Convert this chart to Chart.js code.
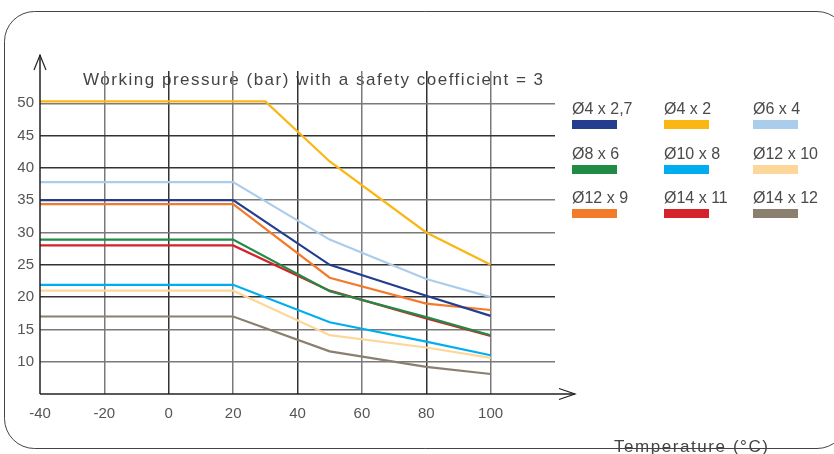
<!DOCTYPE html>
<html>
<head>
<meta charset="utf-8">
<script src="https://cdn.jsdelivr.net/npm/chart.js@4.4.1/dist/chart.umd.min.js"></script>
<style>
html,body{margin:0;padding:0;background:#fff;}
#wrap{width:834px;height:454px;position:relative;}
</style>
</head>
<body>
<div id="wrap"><canvas id="c" width="834" height="454"></canvas></div>
<script>
// ---- data ----
const temps = [-40, 20, 50, 80, 100];
const tempsD4x2 = [-40, 30, 50, 80, 100];
const seriesLabels = ['Ø4 x 2,7','Ø4 x 2','Ø6 x 4','Ø8 x 6','Ø10 x 8','Ø12 x 10','Ø12 x 9','Ø14 x 11','Ø14 x 12'];
const d4x27  = [35.0, 35.0, 25.0, 20.2, 17.1];
const d4x2   = [50.3, 50.3, 41.0, 30.0, 25.0];
const d6x4   = [37.8, 37.8, 28.9, 22.8, 20.0];
const d8x6   = [28.9, 28.9, 20.9, 16.9, 14.1];
const d10x8  = [21.9, 21.9, 16.1, 13.1, 11.0];
const d12x10 = [21.0, 21.0, 14.1, 12.2, 10.6];
const d12x9  = [34.4, 34.4, 23.0, 19.0, 18.0];
const d14x11 = [28.0, 28.0, 21.0, 16.7, 14.0];
const d14x12 = [17.0, 17.0, 11.6, 9.2, 8.1];
const xTicks = [-40, -20, 0, 20, 40, 60, 80, 100];
const yTicks = [10, 15, 20, 25, 30, 35, 40, 45, 50];
const titleText = 'Working pressure (bar) with a safety coefficient = 3';
const xTitleText = 'Temperature (°C)';

const colors = ['#233e8e','#fbb614','#abcdec','#1f8b45','#00aeef','#fdd799','#f47a2b','#d5232b','#8b7f6f'];
const seriesValues = [d4x27, d4x2, d6x4, d8x6, d10x8, d12x10, d12x9, d14x11, d14x12];
const seriesTemps = [temps, tempsD4x2, temps, temps, temps, temps, temps, temps, temps];

const datasets = seriesLabels.map((lab, i) => ({
  label: lab,
  data: seriesValues[i].map((v, k) => ({x: seriesTemps[i][k], y: v})),
  borderColor: colors[i],
  backgroundColor: colors[i],
  borderWidth: 2.2,
  pointRadius: 0,
  tension: 0,
  fill: false
}));
const darkX = new Set([0, 40, 80]);
const darkY = new Set([45, 40, 25, 20]);
const FONT = '"Liberation Sans", Arial, sans-serif';

function fitText(ctx, text, x, y, size, width) {
  ctx.font = size + 'px ' + FONT;
  try { ctx.letterSpacing = '0px'; } catch(e) {}
  const w = ctx.measureText(text).width;
  const sp = (width - w) / (text.length - 1);
  try { ctx.letterSpacing = sp.toFixed(2) + 'px'; } catch(e) {}
  ctx.fillText(text, x, y);
  try { ctx.letterSpacing = '0px'; } catch(e) {}
}

const decor = {
  id: 'decor',
  beforeDraw(chart) {
    const ctx = chart.ctx;
    ctx.save();
    ctx.strokeStyle = '#444';
    ctx.lineWidth = 1;
    const x0 = 4.5, y0 = 11.5, x1 = 847, y1 = 448.5, r = 30;
    ctx.beginPath();
    ctx.moveTo(x0 + r, y0);
    ctx.lineTo(x1 - r, y0);
    ctx.arcTo(x1, y0, x1, y0 + r, r);
    ctx.lineTo(x1, y1 - r);
    ctx.arcTo(x1, y1, x1 - r, y1, r);
    ctx.lineTo(x0 + r, y1);
    ctx.arcTo(x0, y1, x0, y1 - r, r);
    ctx.lineTo(x0, y0 + r);
    ctx.arcTo(x0, y0, x0 + r, y0, r);
    ctx.stroke();
    ctx.fillStyle = '#444';
    ctx.textBaseline = 'middle';
    ctx.textAlign = 'left';
    fitText(ctx, titleText, 83, 80, 17, 460);
    fitText(ctx, xTitleText, 614, 447, 17, 154);
    ctx.restore();
  },
  afterDraw(chart) {
    const ctx = chart.ctx;
    const xs = chart.scales.x, ys = chart.scales.y;
    const ax = xs.getPixelForValue(-40);
    const ay = ys.getPixelForValue(5);
    ctx.save();
    ctx.strokeStyle = '#222';
    ctx.lineWidth = 1.5;
    ctx.beginPath();
    ctx.moveTo(ax, ay);
    ctx.lineTo(ax, 55);
    ctx.stroke();
    ctx.lineWidth = 1.2;
    ctx.beginPath();
    ctx.moveTo(ax - 6, 70);
    ctx.lineTo(ax, 55);
    ctx.lineTo(ax + 6, 70);
    ctx.stroke();
    ctx.lineWidth = 1.5;
    ctx.beginPath();
    ctx.moveTo(ax, ay);
    ctx.lineTo(575, ay);
    ctx.stroke();
    ctx.lineWidth = 1.2;
    ctx.beginPath();
    ctx.moveTo(559, ay - 5.5);
    ctx.lineTo(575, ay);
    ctx.lineTo(559, ay + 5.5);
    ctx.stroke();
    // legend
    const colX = [572, 664, 753];
    const rowY = [110, 155, 199];
    ctx.textBaseline = 'middle';
    ctx.textAlign = 'left';
    chart.data.datasets.forEach((ds, i) => {
      const cx = colX[i % 3], cy = rowY[Math.floor(i / 3)];
      ctx.fillStyle = '#4a4a4a';
      ctx.font = '16px ' + FONT;
      ctx.fillText(ds.label, cx, cy);
      ctx.fillStyle = ds.borderColor;
      ctx.fillRect(cx, cy + 10, 45, 9);
    });
    ctx.restore();
  }
};

new Chart(document.getElementById('c'), {
  type: 'line',
  data: { datasets },
  options: {
    responsive: false,
    animation: false,
    layout: { padding: { left: 0, right: 279, top: 71, bottom: 0 } },
    plugins: { legend: { display: false }, tooltip: { enabled: false }, title: { display: false } },
    scales: {
      x: {
        type: 'linear',
        min: -40, max: 120,
        afterBuildTicks: (s) => { s.ticks = xTicks.concat([120]).map(v => ({value: v})); },
        afterFit: (s) => { s.height = 60; },
        ticks: {
          padding: 11,
          color: '#555',
          font: { family: FONT, size: 15 },
          callback: (v) => (xTicks.includes(v) ? String(v) : '')
        },
        grid: {
          drawTicks: false,
          lineWidth: 1.5,
          color: (c) => {
            const v = c.tick ? c.tick.value : null;
            if (v === 120 || v === -40) return 'rgba(0,0,0,0)';
            return darkX.has(v) ? '#333' : '#7a7a7a';
          }
        },
        border: { display: false }
      },
      y: {
        type: 'linear',
        min: 5, max: 55,
        afterBuildTicks: (s) => { s.ticks = [5].concat(yTicks).concat([55]).map(v => ({value: v})); },
        afterFit: (s) => { s.width = 40; },
        ticks: {
          padding: 6,
          color: '#555',
          font: { family: FONT, size: 15 },
          callback: (v) => (yTicks.includes(v) ? String(v) : '')
        },
        grid: {
          drawTicks: false,
          lineWidth: 1.5,
          color: (c) => {
            const v = c.tick ? c.tick.value : null;
            if (v === 55 || v === 5) return 'rgba(0,0,0,0)';
            return darkY.has(v) ? '#333' : '#7a7a7a';
          }
        },
        border: { display: false }
      }
    }
  },
  plugins: [decor]
});
</script>
</body>
</html>
